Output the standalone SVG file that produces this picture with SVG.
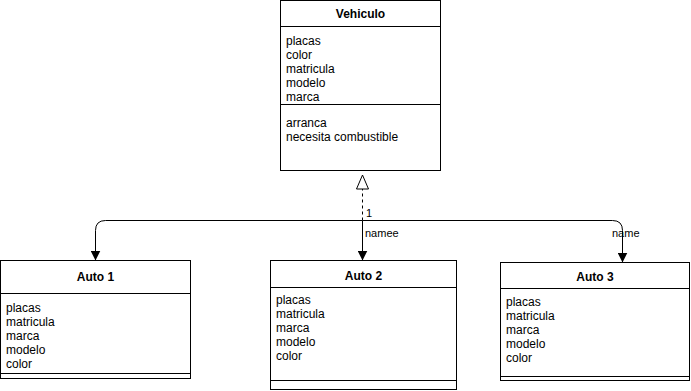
<svg xmlns="http://www.w3.org/2000/svg" width="691" height="391" viewBox="0 0 691 391">
  <style>
    .box { fill: #ffffff; stroke: #000000; stroke-width: 1; }
    .sep { stroke: #000000; stroke-width: 1; fill: none; }
    .title { font-family: "Liberation Sans", Arial, sans-serif; font-size: 12px; font-weight: bold; text-anchor: middle; fill: #000000; }
    .attr { font-family: "Liberation Sans", Arial, sans-serif; font-size: 12px; fill: #000000; }
    .lbl { font-family: "Liberation Sans", Arial, sans-serif; font-size: 11px; fill: #000000; }
    .edge { stroke: #000000; stroke-width: 1; fill: none; }
  </style>
  <defs>
    <marker id="arrow" viewBox="0 0 10 10" refX="10" refY="5" markerWidth="10" markerHeight="10" markerUnits="userSpaceOnUse" orient="auto">
      <path d="M0,0 L10,5 L0,10 Z" fill="#000000"/>
    </marker>
    <marker id="hollow" viewBox="0 0 16 14" refX="16" refY="7" markerWidth="16" markerHeight="14" markerUnits="userSpaceOnUse" orient="auto">
      <path d="M1,1 L15,7 L1,13 Z" fill="#ffffff" stroke="#000000" stroke-width="1"/>
    </marker>
  </defs>
  <rect width="691" height="391" fill="#ffffff"/>

  <g id="vehiculo">
    <rect class="box" x="280.5" y="0.5" width="160" height="170"/>
    <line class="sep" x1="280.5" y1="26.5" x2="440.5" y2="26.5"/>
    <line class="sep" x1="280.5" y1="104.5" x2="440.5" y2="104.5"/>
    <text class="title" x="360.5" y="18">Vehiculo</text>
    <text class="attr" x="286" y="45">placas</text>
    <text class="attr" x="286" y="59">color</text>
    <text class="attr" x="286" y="73">matricula</text>
    <text class="attr" x="286" y="87">modelo</text>
    <text class="attr" x="286" y="101">marca</text>
    <text class="attr" x="286" y="127">arranca</text>
    <text class="attr" x="286" y="141">necesita combustible</text>
  </g>

  <g id="auto1">
    <rect class="box" x="0.5" y="260.5" width="190" height="118"/>
    <line class="sep" x1="0.5" y1="293.5" x2="190.5" y2="293.5"/>
    <line class="sep" x1="0.5" y1="373.5" x2="190.5" y2="373.5"/>
    <text class="title" x="95.5" y="281">Auto 1</text>
    <text class="attr" x="6" y="312">placas</text>
    <text class="attr" x="6" y="326">matricula</text>
    <text class="attr" x="6" y="340">marca</text>
    <text class="attr" x="6" y="354">modelo</text>
    <text class="attr" x="6" y="368">color</text>
  </g>

  <g id="auto2">
    <rect class="box" x="270.5" y="260.5" width="186" height="129"/>
    <line class="sep" x1="270.5" y1="287.5" x2="456.5" y2="287.5"/>
    <line class="sep" x1="270.5" y1="380.5" x2="456.5" y2="380.5"/>
    <text class="title" x="363.5" y="280">Auto 2</text>
    <text class="attr" x="276" y="304">placas</text>
    <text class="attr" x="276" y="318">matricula</text>
    <text class="attr" x="276" y="332">marca</text>
    <text class="attr" x="276" y="346">modelo</text>
    <text class="attr" x="276" y="360">color</text>
  </g>

  <g id="auto3">
    <rect class="box" x="500.5" y="262.5" width="189" height="118"/>
    <line class="sep" x1="500.5" y1="288.5" x2="689.5" y2="288.5"/>
    <line class="sep" x1="500.5" y1="376.5" x2="689.5" y2="376.5"/>
    <text class="title" x="595" y="281">Auto 3</text>
    <text class="attr" x="506" y="306">placas</text>
    <text class="attr" x="506" y="320">matricula</text>
    <text class="attr" x="506" y="334">marca</text>
    <text class="attr" x="506" y="348">modelo</text>
    <text class="attr" x="506" y="362">color</text>
  </g>

  <g id="connectors">
    <!-- realization toward Vehiculo -->
    <path class="edge" d="M362.5,220.5 L362.5,174" stroke-dasharray="3,3" marker-end="url(#hollow)"/>
    <!-- to Auto 2 -->
    <path class="edge" d="M362.5,220.5 L362.5,260.5" marker-end="url(#arrow)"/>
    <!-- to Auto 1 -->
    <path class="edge" d="M362.5,220.5 L105.5,220.5 Q95.5,220.5 95.5,230.5 L95.5,260.5" marker-end="url(#arrow)"/>
    <!-- to Auto 3 -->
    <path class="edge" d="M362.5,220.5 L612.5,220.5 Q622.5,220.5 622.5,230.5 L622.5,262.5" marker-end="url(#arrow)"/>
    <text class="lbl" x="366" y="217">1</text>
    <text class="lbl" x="365" y="237">namee</text>
    <text class="lbl" x="612" y="237">name</text>
  </g>
</svg>
